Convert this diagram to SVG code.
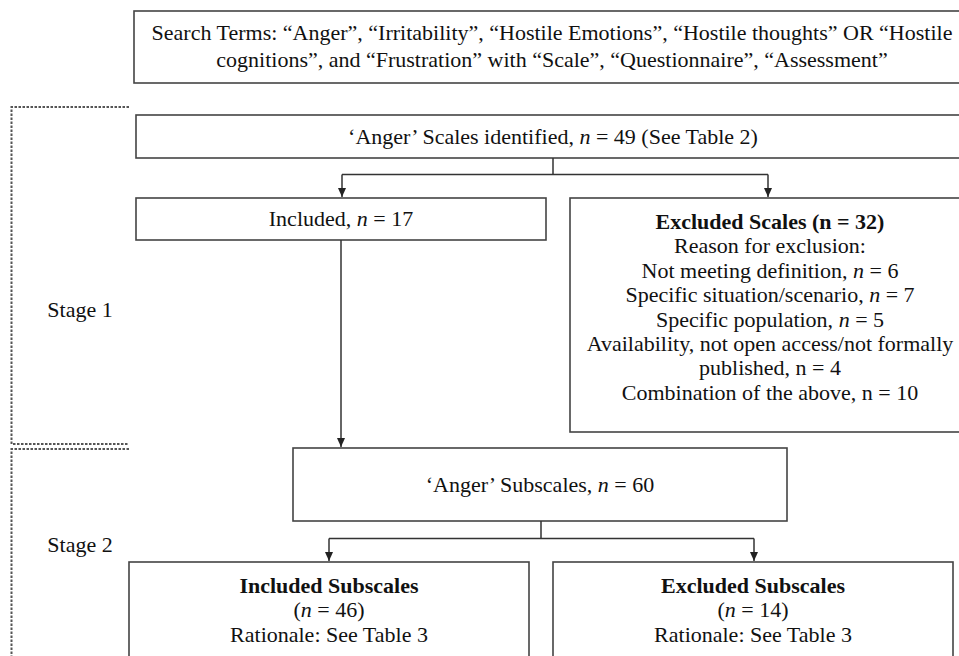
<svg xmlns="http://www.w3.org/2000/svg" width="959" height="656" viewBox="0 0 959 656">
<defs>
<style>
.box{fill:#fff;stroke:#444;stroke-width:1.6}
.t{font-family:"Liberation Serif","Times New Roman",serif;font-size:22px;fill:#111;text-anchor:middle}
.b{font-weight:bold}
.i{font-style:italic}
.c{fill:none;stroke:#333;stroke-width:1.5}
.d{fill:none;stroke:#555;stroke-width:2;stroke-dasharray:2.5 1.5}
</style>
<marker id="ah" markerWidth="10" markerHeight="10" refX="9" refY="5" orient="auto" markerUnits="userSpaceOnUse">
<path d="M0,1 L9,5 L0,9 Z" fill="#222"/>
</marker>
</defs>
<rect width="959" height="656" fill="#fff"/>
<g id="brackets">
<path class="d" d="M129,107 H11.5 V444 H129"/>
<path class="d" d="M129,449 H11.5 V656"/>
<text class="t" x="80" y="317">Stage 1</text>
<text class="t" x="80" y="552">Stage 2</text>
</g>
<g id="search">
<rect class="box" x="134" y="11" width="840" height="72"/>
<text class="t" x="552" y="40">Search Terms: “Anger”, “Irritability”, “Hostile Emotions”, “Hostile thoughts” OR “Hostile</text>
<text class="t" x="552" y="67">cognitions”, and “Frustration” with “Scale”, “Questionnaire”, “Assessment”</text>
</g>
<g id="scales">
<rect class="box" x="136" y="115" width="838" height="43"/>
<text class="t" x="553" y="144">‘Anger’ Scales identified, <tspan class="i">n</tspan> = 49 (See Table 2)</text>
</g>
<g id="included">
<rect class="box" x="136" y="198" width="410" height="42"/>
<text class="t" x="341" y="226">Included, <tspan class="i">n</tspan> = 17</text>
</g>
<g id="excluded">
<rect class="box" x="570" y="198" width="404" height="234"/>
<text class="t b" x="770" y="229">Excluded Scales (n = 32)</text>
<text class="t" x="770" y="253">Reason for exclusion:</text>
<text class="t" x="770" y="278">Not meeting definition, <tspan class="i">n</tspan> = 6</text>
<text class="t" x="770" y="302">Specific situation/scenario, <tspan class="i">n</tspan> = 7</text>
<text class="t" x="770" y="327">Specific population, <tspan class="i">n</tspan> = 5</text>
<text class="t" x="770" y="351">Availability, not open access/not formally</text>
<text class="t" x="770" y="375">published, n = 4</text>
<text class="t" x="770" y="400">Combination of the above, n = 10</text>
</g>
<g id="subscales">
<rect class="box" x="293" y="448" width="494" height="73"/>
<text class="t" x="540" y="492">‘Anger’ Subscales, <tspan class="i">n</tspan> = 60</text>
</g>
<g id="inc-sub">
<rect class="box" x="129" y="562" width="400" height="110"/>
<text class="t b" x="329" y="593">Included Subscales</text>
<text class="t" x="329" y="617">(<tspan class="i">n</tspan> = 46)</text>
<text class="t" x="329" y="642">Rationale: See Table 3</text>
</g>
<g id="exc-sub">
<rect class="box" x="553" y="562" width="400" height="110"/>
<text class="t b" x="753" y="593">Excluded Subscales</text>
<text class="t" x="753" y="617">(<tspan class="i">n</tspan> = 14)</text>
<text class="t" x="753" y="642">Rationale: See Table 3</text>
</g>
<g id="connectors">
<path class="c" d="M553,158 V174.5 H342 M553,174.5 H768"/>
<path class="c" d="M342,174.5 V197" marker-end="url(#ah)"/>
<path class="c" d="M768,174.5 V197" marker-end="url(#ah)"/>
<path class="c" d="M341,240 V447" marker-end="url(#ah)"/>
<path class="c" d="M541,521 V538.5 H329 M541,538.5 H754"/>
<path class="c" d="M329,538.5 V561" marker-end="url(#ah)"/>
<path class="c" d="M754,538.5 V561" marker-end="url(#ah)"/>
</g>
</svg>
